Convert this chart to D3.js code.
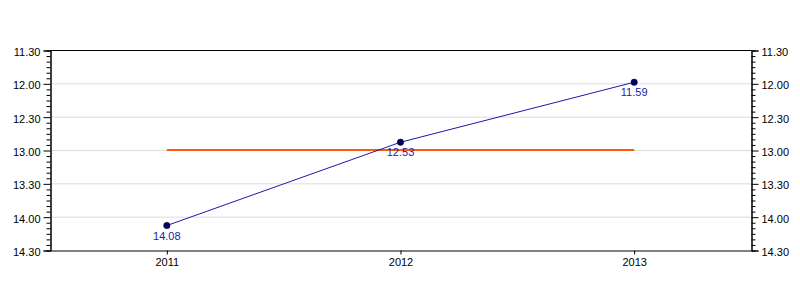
<!DOCTYPE html>
<html><head><meta charset="utf-8">
<script src="https://cdn.jsdelivr.net/npm/d3@7"></script>
<style>body{margin:0;background:#fff}svg{display:block;font-family:"Liberation Sans",Arial,sans-serif}</style>
</head><body><svg width="800" height="300"></svg>
<script>
const categories = ["2011", "2012", "2013"];
const valueLabels = ["14.08", "12.53", "11.59"];
const values = [14*60+8, 12*60+53, 11*60+59]; // seconds
const target = [13*60, 13*60, 13*60];
const yTickLabels = ["11.30","12.00","12.30","13.00","13.30","14.00","14.30"];
const yMin = 11*60+30, yMax = 14*60+30;

const svg = d3.select("svg");
const L = 50, R = 751, T = 50, B = 250;
const x = d3.scaleBand().domain(categories).range([L, R]).padding(0);
const cx = d => x(d) + x.bandwidth()/2;
const y = d3.scaleLinear().domain([yMin, yMax]).range([T, B]);
const majors = yTickLabels.map(s => { const [m, sec] = s.split("."); return +m*60 + +sec; });
const minors = d3.range(yMin, yMax + 1, 5).filter(v => !majors.includes(v));
const fmt = v => Math.floor(v/60) + "." + String(v%60).padStart(2,"0");
const FONT = "Liberation Sans, Arial, sans-serif";

// gridlines
svg.append("g").selectAll("line").data(majors.slice(1, -1)).join("line")
  .attr("x1", L).attr("x2", R).attr("y1", d => y(d)+0.5).attr("y2", d => y(d)+0.5)
  .attr("stroke", "#dcdcdc").attr("stroke-width", 1);

function styleAxis(g) {
  g.select(".domain").attr("stroke", "#000");
  g.selectAll(".tick line").attr("stroke", "#000");
  g.selectAll("text").attr("font-size", 11).attr("fill", "#000").attr("font-family", FONT);
}
// minor ticks
[[d3.axisLeft, L], [d3.axisRight, R]].forEach(([ax, pos]) => {
  const g = svg.append("g").attr("transform", `translate(${pos+0.5},0.5)`)
    .call(ax(y).tickValues(minors).tickSize(4).tickFormat(""));
  styleAxis(g);
});
// major ticks + labels
const leftAx = svg.append("g").attr("transform", `translate(${L+0.5},0.5)`)
  .call(d3.axisLeft(y).tickValues(majors).tickSize(7).tickFormat(fmt));
const rightAx = svg.append("g").attr("transform", `translate(${R+0.5},0.5)`)
  .call(d3.axisRight(y).tickValues(majors).tickSize(7).tickFormat(fmt));
[leftAx, rightAx].forEach(styleAxis);
leftAx.selectAll("text").attr("x", -10).attr("dy", "0.45em");
rightAx.selectAll("text").attr("x", 10).attr("dy", "0.45em");

// bottom axis
const bx = svg.append("g").attr("transform", `translate(0.5,${B+0.5})`)
  .call(d3.axisBottom(x).tickSize(4).tickSizeOuter(0));
styleAxis(bx);
bx.selectAll("text").attr("y", 6).attr("dy", "0.85em");
// top border
svg.append("line").attr("x1", L).attr("x2", R+1).attr("y1", T+0.5).attr("y2", T+0.5).attr("stroke", "#000");

// target line
svg.append("path").datum(target)
  .attr("d", d3.line().x((d,i) => cx(categories[i])).y(d => y(d)))
  .attr("fill", "none").attr("stroke", "#ff5a10").attr("stroke-width", 2);

// series line
svg.append("path").datum(values)
  .attr("d", d3.line().x((d,i) => cx(categories[i])).y(d => y(d)))
  .attr("fill", "none").attr("stroke", "#1a1aaa").attr("stroke-width", 1);

svg.append("g").selectAll("circle").data(values).join("circle")
  .attr("cx", (d,i) => cx(categories[i])).attr("cy", d => y(d)).attr("r", 3.2)
  .attr("fill", "#000066").attr("stroke", "#000033").attr("stroke-width", 0.5);

svg.append("g").selectAll("text").data(values).join("text")
  .attr("x", (d,i) => cx(categories[i])).attr("y", d => y(d) + 14)
  .attr("text-anchor", "middle").attr("font-size", 11).attr("fill", "#1a1aaa")
  .attr("font-family", FONT)
  .text((d,i) => valueLabels[i]);
</script></body></html>
